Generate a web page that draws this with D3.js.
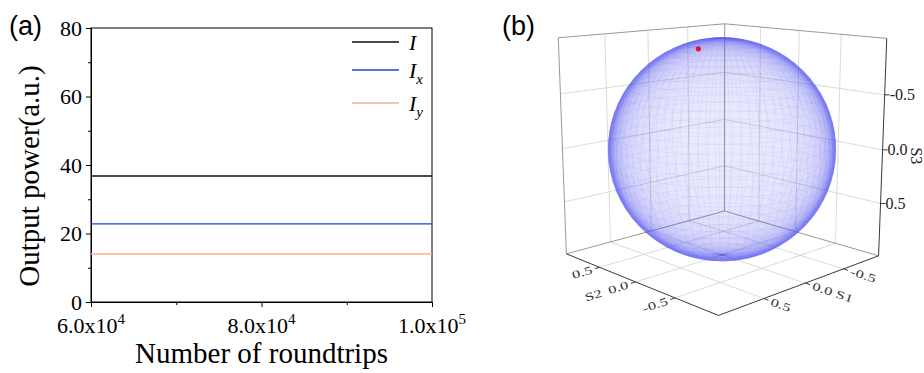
<!DOCTYPE html>
<html>
<head>
<meta charset="utf-8">
<script src="https://cdn.jsdelivr.net/npm/d3@7"></script>
<style>
  body { margin: 0; background: #fff; }
  svg { display: block; }
</style>
</head>
<body>
<div id="chart"></div>
<script>
// ---------- panel (a) data ----------
const roundtrips = [60000, 100000]
const powerI = [36.8, 36.8]
const powerIx = [22.8, 22.8]
const powerIy = [14.0, 14.0]
const seriesNames = ["I", "x", "y"]          // main letter + subscript
const seriesColors = ["#111111", "#2040d8", "#f6b48c"]
const xTicks = [60000, 80000, 100000]
const xMinorTicks = [70000, 90000]
const xTickMantissa = ["6.0x10", "8.0x10", "1.0x10"]
const xTickExponent = ["4", "4", "5"]
const yTicks = [0, 20, 40, 60, 80]
const yMinorTicks = [10, 30, 50, 70]

// ---------- panel (b) data ----------
const stokesDomain = [-1, 1]
const stokesTicks = [-0.5, 0, 0.5]
const stokesTickLabels = ["-0.5", "0.0", "0.5"]
const statePoint = [0.34, -0.07, -0.938]     // S1, S2, S3
const meshLat = d3.range(0, 181, 5)          // polar angle of the sphere mesh
const meshLon = d3.range(0, 361, 5)

const width = 924, height = 373
const svg = d3.select("#chart").append("svg")
    .attr("width", width)
    .attr("height", height)

// ================= PANEL (a) =================
const dimA = { left: 91, right: 432, top: 28, bottom: 302 }
const serif = "'Liberation Serif', 'Times New Roman', serif"

const xScale = d3.scaleLinear()
    .domain([roundtrips[0], roundtrips[roundtrips.length - 1]])
    .range([dimA.left, dimA.right])
const yScale = d3.scaleLinear()
    .domain([yTicks[0], yTicks[yTicks.length - 1]])
    .range([dimA.bottom, dimA.top])

const panelA = svg.append("g")

// axes (major + minor ticks)
const yAxis = panelA.append("g")
    .attr("transform", `translate(${dimA.left},0)`)
    .call(d3.axisLeft(yScale).tickValues(yTicks).tickSize(5).tickPadding(4))
yAxis.selectAll("text")
    .style("font-family", serif).style("font-size", "22px").attr("fill", "#000")
panelA.append("g")
    .attr("transform", `translate(${dimA.left},0)`)
    .call(d3.axisLeft(yScale).tickValues(yMinorTicks).tickSize(3).tickFormat(""))
    .select(".domain").remove()

const xAxis = panelA.append("g")
    .attr("transform", `translate(0,${dimA.bottom})`)
    .call(d3.axisBottom(xScale).tickValues(xTicks).tickSize(5).tickFormat(""))
panelA.append("g")
    .attr("transform", `translate(0,${dimA.bottom})`)
    .call(d3.axisBottom(xScale).tickValues(xMinorTicks).tickSize(3).tickFormat(""))
    .select(".domain").remove()

const xLabels = panelA.append("g").selectAll("text")
    .data(xTicks)
  .join("text")
    .attr("x", d => xScale(d))
    .attr("y", dimA.bottom + 31)
    .attr("text-anchor", "middle")
    .style("font-family", serif)
    .style("font-size", "22px")
xLabels.append("tspan").text((d, i) => xTickMantissa[i])
xLabels.append("tspan").attr("dy", -9).style("font-size", "15px").text((d, i) => xTickExponent[i])

// frame
panelA.append("rect")
    .attr("x", dimA.left).attr("y", dimA.top)
    .attr("width", dimA.right - dimA.left).attr("height", dimA.bottom - dimA.top)
    .attr("fill", "none").attr("stroke", "#000").attr("stroke-width", 1)

// data lines
const line = d3.line()
    .x(d => xScale(d[0]))
    .y(d => yScale(d[1]))
const seriesValues = [powerI, powerIx, powerIy]
panelA.append("g").selectAll("path")
    .data(seriesValues)
  .join("path")
    .attr("d", vals => line(roundtrips.map((x, i) => [x, vals[i]])))
    .attr("fill", "none")
    .attr("stroke", (d, i) => seriesColors[i])
    .attr("stroke-width", 1.4)

// legend
const legendY = [42, 70, 103]
const legend = panelA.append("g").selectAll("g")
    .data(seriesNames)
  .join("g")
    .attr("transform", (d, i) => `translate(352,${legendY[i]})`)
legend.append("line")
    .attr("x1", 0).attr("x2", 47)
    .attr("stroke", (d, i) => seriesColors[i])
    .attr("stroke-width", 1.4)
const legendText = legend.append("text")
    .attr("x", 57).attr("y", 8)
    .style("font-family", serif).style("font-style", "italic").style("font-size", "22px")
legendText.append("tspan").text("I")
legendText.filter((d, i) => i > 0).append("tspan")
    .attr("dy", 6).style("font-size", "15px").text(d => d)

// titles
panelA.append("text")
    .attr("x", (dimA.left + dimA.right) / 2)
    .attr("y", 363)
    .attr("text-anchor", "middle")
    .style("font-family", serif).style("font-size", "29px")
    .text("Number of roundtrips")
panelA.append("text")
    .attr("transform", "translate(39,176) rotate(-90)")
    .attr("text-anchor", "middle")
    .style("font-family", serif).style("font-size", "29px")
    .text("Output power(a.u.)")
panelA.append("text")
    .attr("x", 9).attr("y", 35)
    .style("font-family", "'Liberation Sans', Arial, sans-serif").style("font-size", "27px")
    .text("(a)")

// ================= PANEL (b) =================
const view = { cx: 722, cy: 149.2, scale: 113.2, elev: 12.5, azim: 43.9, persp: 0.12, zAspect: 0.98 }
const s1Scale = d3.scaleLinear().domain(stokesDomain).range([-1, 1])
const s2Scale = d3.scaleLinear().domain(stokesDomain).range([-1, 1])
const s3Scale = d3.scaleLinear().domain(stokesDomain).range([view.zAspect, -view.zAspect])

function toCamera(S1, S2, S3) {
    const a = s1Scale(S1), b = s2Scale(S2), h = s3Scale(S3)
    const e = view.elev * Math.PI / 180, p = view.azim * Math.PI / 180
    const xr = -a * Math.cos(p) - b * Math.sin(p)
    const dep = -a * Math.sin(p) + b * Math.cos(p)
    return [xr, h * Math.cos(e) + dep * Math.sin(e), dep * Math.cos(e) - h * Math.sin(e)]
}
function project(S1, S2, S3) {
    const [xr, yc, zc] = toCamera(S1, S2, S3)
    const f = 1 / (1 + zc * view.persp)
    return [view.cx + view.scale * xr * f, view.cy - view.scale * yc * f]
}
const lo = stokesDomain[0], hi = stokesDomain[1]
const panelB = svg.append("g")
const seg = (p, q) => "M" + project(...p) + "L" + project(...q)

// walls and floor grid
const gridSegs = []
stokesTicks.forEach(t => {
    gridSegs.push([[t, hi, lo], [t, hi, hi]])      // back-left wall, vertical
    gridSegs.push([[lo, hi, t], [hi, hi, t]])      // back-left wall, horizontal
    gridSegs.push([[lo, t, lo], [lo, t, hi]])      // back-right wall, vertical
    gridSegs.push([[lo, lo, t], [lo, hi, t]])      // back-right wall, horizontal
    gridSegs.push([[t, lo, hi], [t, hi, hi]])      // floor
    gridSegs.push([[lo, t, hi], [hi, t, hi]])      // floor
})
panelB.append("g").selectAll("path")
    .data(gridSegs)
  .join("path")
    .attr("d", d => seg(d[0], d[1]))
    .attr("stroke", "#d0d0d0").attr("stroke-width", 0.8).attr("fill", "none")

const frameSegs = [
    [[hi, hi, lo], [lo, hi, lo]], [[lo, hi, lo], [lo, lo, lo]],
    [[lo, hi, lo], [lo, hi, hi]], [[hi, hi, lo], [hi, hi, hi]],
    [[hi, hi, hi], [lo, hi, hi]], [[lo, hi, hi], [lo, lo, hi]]
]
panelB.append("g").selectAll("path")
    .data(frameSegs)
  .join("path")
    .attr("d", d => seg(d[0], d[1]))
    .attr("stroke", "#8c8c8c").attr("stroke-width", 0.9).attr("fill", "none")

// sphere: translucent faces, denser where seen edge-on
const sphereColor = "rgb(84,84,238)"
const faceAlpha = 0.06
const toRad = Math.PI / 180
const sph = (th, la) => [Math.sin(th * toRad) * Math.cos(la * toRad),
    Math.sin(th * toRad) * Math.sin(la * toRad), Math.cos(th * toRad)]
const faces = []
for (let i = 0; i < meshLat.length - 1; i++) {
    for (let j = 0; j < meshLon.length - 1; j++) {
        const corners = [[meshLat[i], meshLon[j]], [meshLat[i + 1], meshLon[j]],
            [meshLat[i + 1], meshLon[j + 1]], [meshLat[i], meshLon[j + 1]]]
        const c = toCamera(...sph((meshLat[i] + meshLat[i + 1]) / 2, (meshLon[j] + meshLon[j + 1]) / 2))
        const v = [c[0], c[1], c[2] + 1 / view.persp]
        const cos = Math.abs(c[0] * v[0] + c[1] * v[1] + c[2] * v[2]) / (Math.hypot(...c) * Math.hypot(...v))
        faces.push({ pts: corners.map(([t, l]) => project(...sph(t, l))), depth: c[2], cos })
    }
}
faces.sort((a, b) => b.depth - a.depth)
panelB.append("g").selectAll("path")
    .data(faces)
  .join("path")
    .attr("d", d => "M" + d.pts.join("L") + "Z")
    .attr("fill", sphereColor)
    .attr("fill-opacity", d => Math.min(0.5, 1 - Math.pow(1 - faceAlpha, 1 / Math.pow(Math.max(d.cos, 0.05), 1.5))))

const meshLine = d3.line()
const meridians = meshLon.slice(0, -1).map(l => meshLat.map(t => project(...sph(t, l))))
const parallels = meshLat.slice(1, -1).map(t => meshLon.map(l => project(...sph(t, l))))
panelB.append("g").selectAll("path")
    .data(meridians.concat(parallels))
  .join("path")
    .attr("d", meshLine)
    .attr("fill", "none")
    .attr("stroke", sphereColor).attr("stroke-opacity", 0.15).attr("stroke-width", 0.45)

// axes
const axisSegs = [[[lo, lo, lo], [lo, lo, hi]], [[lo, lo, hi], [hi, lo, hi]], [[hi, lo, hi], [hi, hi, hi]]]
panelB.append("g").selectAll("path")
    .data(axisSegs)
  .join("path")
    .attr("d", d => seg(d[0], d[1]))
    .attr("stroke", "#3a3a3a").attr("stroke-width", 1).attr("fill", "none")

const tickLen = 0.05
panelB.append("g").selectAll("path")
    .data(stokesTicks)
  .join("path")
    .attr("d", t => seg([t, lo, hi], [t, lo - tickLen, hi]))
    .attr("stroke", "#3a3a3a")
panelB.append("g").selectAll("path")
    .data(stokesTicks)
  .join("path")
    .attr("d", t => seg([hi, t, hi], [hi + tickLen, t, hi]))
    .attr("stroke", "#3a3a3a")

// floor labels lie flat along the outward direction of each axis
const angleOf = (p, q) => Math.atan2(q[1] - p[1], q[0] - p[0]) * 180 / Math.PI
const floorText = (g, S1, S2, dirTo, anchor, txt) => {
    const p = project(S1, S2, hi)
    const ang = angleOf(p, project(...dirTo))
    g.append("text")
        .attr("transform", `translate(${p[0]},${p[1]}) rotate(${ang}) scale(1.1,0.75)`)
        .attr("text-anchor", anchor)
        .attr("dy", "0.35em")
        .style("font-family", serif).style("font-size", "15px").attr("fill", "#333")
        .text(txt)
}
const labelsB = panelB.append("g")
stokesTicks.forEach((t, i) => {
    floorText(labelsB, t, lo - 0.08, [t, lo - 1, hi], "start", stokesTickLabels[i])
    floorText(labelsB, hi + 0.08, t, [lo, t, hi], "end", stokesTickLabels[i])
})
floorText(labelsB, 0, lo - 0.33, [0, lo - 1, hi], "start", "S1")
floorText(labelsB, hi + 0.35, 0, [lo, 0, hi], "end", "S2")

// S3 axis (right vertical edge)
stokesTicks.forEach((t, i) => {
    const p = project(lo, lo, t)
    labelsB.append("line")
        .attr("x1", p[0]).attr("x2", p[0] + 5)
        .attr("y1", p[1]).attr("y2", p[1])
        .attr("stroke", "#3a3a3a")
    labelsB.append("text")
        .attr("x", p[0] + 5).attr("y", p[1]).attr("dy", "0.35em")
        .style("font-family", serif).style("font-size", "16px").attr("fill", "#222")
        .text(stokesTickLabels[i])
})
const s3Mid = project(lo, lo, 0)
labelsB.append("text")
    .attr("transform", `translate(${s3Mid[0] + 28},${s3Mid[1] + 6}) rotate(90)`)
    .attr("text-anchor", "middle")
    .style("font-family", serif).style("font-size", "16px").attr("fill", "#222")
    .text("S3")

// polarization state
const dot = project(...statePoint)
panelB.append("circle")
    .attr("cx", dot[0]).attr("cy", dot[1]).attr("r", 2.6)
    .attr("fill", "#e8102a")

panelB.append("text")
    .attr("x", 502).attr("y", 35)
    .style("font-family", "'Liberation Sans', Arial, sans-serif").style("font-size", "27px")
    .text("(b)")
</script>
</body>
</html>
